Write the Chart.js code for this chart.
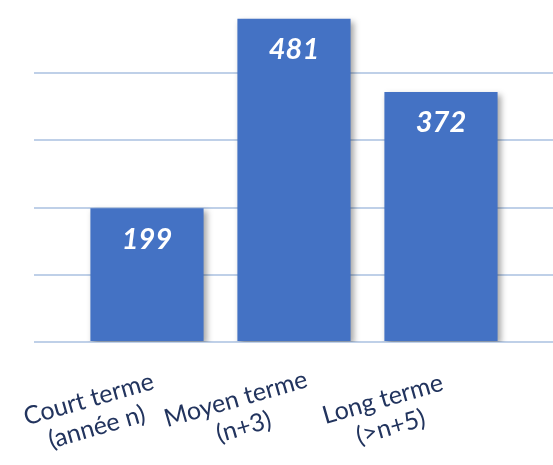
<!DOCTYPE html>
<html>
<head>
<meta charset="utf-8">
<script src="https://cdn.jsdelivr.net/npm/chart.js@4"></script>
<style>
  html, body { margin: 0; padding: 0; background: #fff; }
  #wrap { width: 553px; height: 465px; }
</style>
</head>
<body>
<div id="wrap"><canvas id="chart"></canvas></div>
<script>
const categories = [
    ['Court terme', '(année n)'],
    ['Moyen terme', '(n+3)'],
    ['Long terme', '(>n+5)']
];
const values = [199, 481, 372];
const gridTicks = [0, 100, 200, 300, 400];

const BAR_BLUE = '#4472c4';
const GRID_BLUE = '#bfd0e8';
const LABEL_NAVY = '#22345e';
const LABEL_ANGLE = -16 * Math.PI / 180;

// soft drop shadow behind the bars, like the office chart
const barShadow = {
    id: 'barShadow',
    beforeDatasetsDraw(chart) {
        const ctx = chart.ctx;
        ctx.save();
        ctx.shadowColor = 'rgba(0, 0, 0, 0.35)';
        ctx.shadowBlur = 6;
        ctx.shadowOffsetX = 3;
        ctx.shadowOffsetY = 3;
    },
    afterDatasetsDraw(chart) {
        chart.ctx.restore();
    }
};

// white value inside the top of each bar
const valueLabels = {
    id: 'valueLabels',
    afterDatasetsDraw(chart) {
        const ctx = chart.ctx;
        const meta = chart.getDatasetMeta(0);
        ctx.save();
        ctx.fillStyle = '#ffffff';
        ctx.font = 'italic bold 29px Lato';
        ctx.textAlign = 'center';
        ctx.textBaseline = 'middle';
        meta.data.forEach((bar, i) => {
            ctx.fillText(String(values[i]), bar.x, bar.y + 31);
        });
        ctx.restore();
    }
};

// rotated two-line category labels, centred under each bar
const categoryLabels = {
    id: 'categoryLabels',
    afterDraw(chart) {
        const ctx = chart.ctx;
        const x = chart.scales.x;
        const lineHeight = 29;
        const cos = Math.cos(LABEL_ANGLE), sin = Math.sin(LABEL_ANGLE);
        categories.forEach((lines, i) => {
            const px = x.getPixelForValue(i) - 56;
            const py = x.top + 65;
            ctx.save();
            ctx.fillStyle = LABEL_NAVY;
            ctx.font = '25px Lato';
            ctx.textAlign = 'center';
            ctx.textBaseline = 'alphabetic';
            ctx.transform(cos, sin, -sin, cos, px, py);
            lines.forEach((line, j) => ctx.fillText(line, 0, j * lineHeight));
            ctx.restore();
        });
    }
};

new Chart(document.getElementById('chart'), {
    type: 'bar',
    data: {
        datasets: [{
            data: values.map((v, i) => ({ x: i, y: v })),
            backgroundColor: BAR_BLUE,
            borderWidth: 0,
            barPercentage: 0.77,
            categoryPercentage: 1
        }]
    },
    plugins: [barShadow, valueLabels, categoryLabels],
    options: {
        responsive: true,
        maintainAspectRatio: false,
        animation: false,
        layout: { padding: { top: 6, left: 0, right: 0, bottom: 0 } },
        plugins: {
            legend: { display: false },
            tooltip: { enabled: false }
        },
        scales: {
            x: {
                type: 'linear',
                min: -0.7687,
                max: 2.762,
                offset: false,
                ticks: { display: false, includeBounds: false, stepSize: 1 },
                grid: { display: false },
                border: { display: false },
                afterFit(s) { s.height = 123; }
            },
            y: {
                min: 0,
                max: 500,
                ticks: { display: false, stepSize: 100 },
                border: { display: false },
                grid: {
                    drawTicks: false,
                    lineWidth: 2,
                    color: ctx => gridTicks.includes(ctx.tick.value) ? GRID_BLUE : 'rgba(0,0,0,0)'
                },
                afterFit(s) { s.width = 34; }
            }
        }
    }
});
</script>
</body>
</html>
